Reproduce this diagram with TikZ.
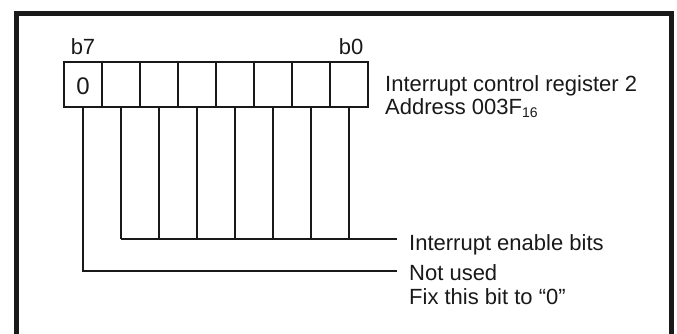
\documentclass[tikz,border=0pt]{standalone}
\usepackage{fontspec}
\setmainfont{Liberation Sans}
\begin{document}
\begin{tikzpicture}[x=1pt,y=-1pt,
  txt/.style={font=\fontsize{22}{24}\selectfont, inner sep=0pt, anchor=base west, text=black!90},
  cell/.style={draw=black!90, line width=2pt, minimum width=38pt, minimum height=45pt, inner sep=0pt, outer sep=0pt},
  wire/.style={draw=black!90, line width=2pt},
  frame/.style={draw=black!90, line width=5pt, line join=miter}]
\useasboundingbox (0,0) rectangle (677,334);
% frame
\draw[frame] (16,334) -- (16,13.5) -- (671.5,13.5) -- (671.5,334);
% register cells
\foreach \i/\b in {0/7,1/6,2/5,3/4,4/3,5/2,6/1,7/0}{
  \node[cell] (c\b) at (83+38*\i,84.5) {};
}
\node[txt, anchor=base, font=\fontsize{24}{26}\selectfont] (zero) at ([yshift=-10pt]c7.center) {0};
\node[txt, anchor=base] (b7) at ([yshift=7pt]c7.north) {b7};
\node[txt, anchor=base] (b0) at ([xshift=2pt,yshift=7pt]c0.north) {b0};
\node[txt] (reg) at (385,92) {Interrupt control register 2};
\node[txt] (addr) at (385,114) {Address 003F\raisebox{-3pt}{\fontsize{14}{16}\selectfont 16}};
% labels
\node[txt] (ien) at (409,250) {Interrupt enable bits};
\node[txt] (nu) at (409,280) {Not used};
\node[txt] (fix) at (409,304) {Fix this bit to “0”};
% connector ends
\coordinate (e1) at (397,238.7);
\coordinate (e2) at (397,271);
% wires
\draw[wire] (c7.south) |- (e2);
\foreach \b in {6,5,4,3,2,1,0}{
  \draw[wire] (c\b.south) -- (c\b.south |- e1);
}
\draw[wire] (c6.south |- e1) -- (e1);
\end{tikzpicture}
\end{document}
